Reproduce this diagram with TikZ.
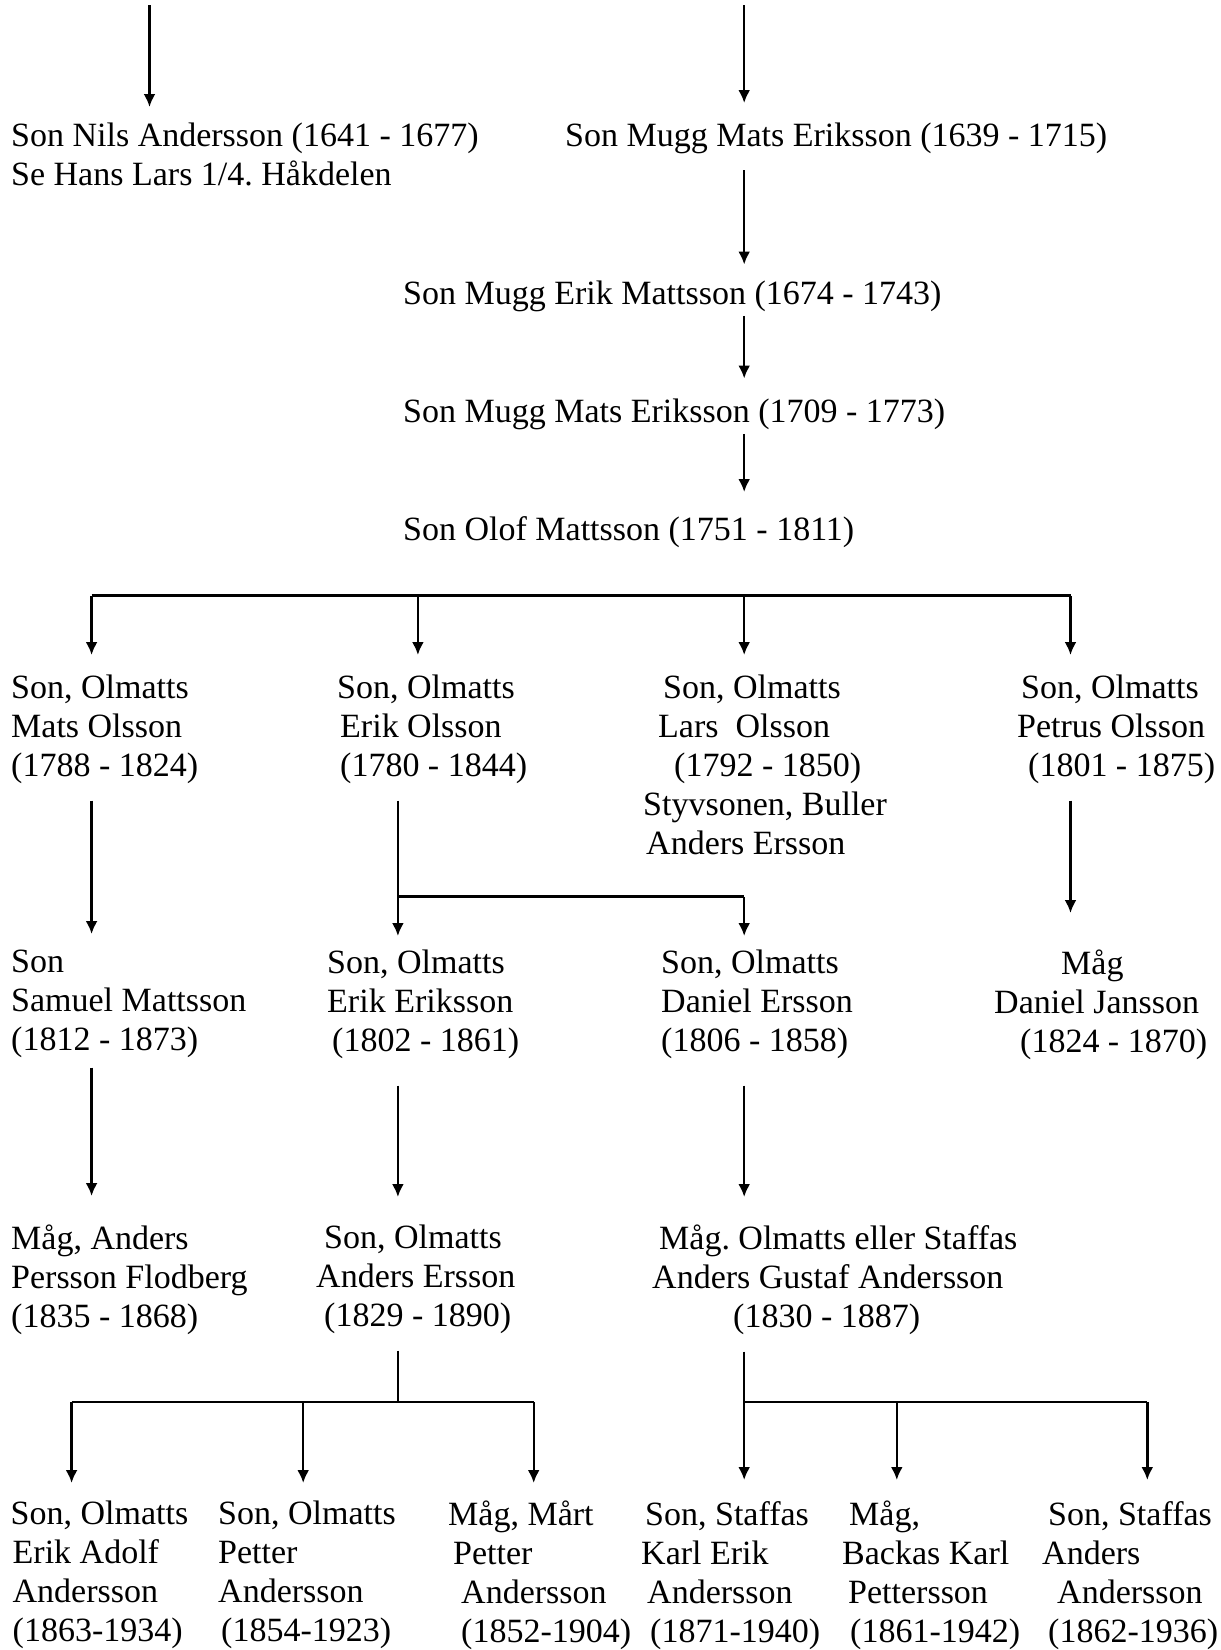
\documentclass[tikz,border=0pt]{standalone}
\usepackage{fontspec}
\setmainfont{Liberation Serif}
\usetikzlibrary{arrows.meta}

\tikzset{
  person/.style={anchor=north west, inner sep=0pt, align=left,
    font=\fontsize{34}{39}\selectfont\frenchspacing, execute at begin node=\strut},
  arr/.style={-{Latex[length=13pt,width=12pt]}, line width=2.4pt, shorten >=16pt},
  from/.style={shorten <=12pt},
  bar/.style={line width=2.8pt}
}

\begin{document}
\begin{tikzpicture}[x=1pt,y=-1pt]
\useasboundingbox (0,0) rectangle (1221,1650);

% line columns and bar heights
\coordinate (cL) at (149.5,0);
\coordinate (cM) at (744.2,0);
\coordinate (c1) at (91.6,0);
\coordinate (c2) at (417.9,0);
\coordinate (c2b) at (397.9,0);
\coordinate (c4) at (1070.5,0);
\coordinate (d1) at (71.6,0);
\coordinate (d2) at (303.2,0);
\coordinate (d3) at (533.7,0);
\coordinate (d5) at (896.8,0);
\coordinate (d6) at (1147.3,0);
\coordinate (bar1) at (0,595.8);
\coordinate (bar2) at (0,896.8);
\coordinate (bar3) at (0,1402);
\coordinate (inL) at (149.5,5);
\coordinate (inR) at (744.2,5);

% top
\node[person] (nils) at (11,123) {Son Nils Andersson (1641 - 1677)\\Se Hans Lars 1/4. Håkdelen};
\node[person] (mugg1) at (565,119) {Son Mugg Mats Eriksson (1639 - 1715)};
\node[person] (mugg2) at (403,276.5) {Son Mugg Erik Mattsson (1674 - 1743)};
\node[person] (mugg3) at (403,394.5) {Son Mugg Mats Eriksson (1709 - 1773)};
\node[person] (olof) at (403,513) {Son Olof Mattsson (1751 - 1811)};

% sons of Olof
\node[person] (mats) at (11,675) {Son, Olmatts\\Mats Olsson\\(1788 - 1824)};
\node[person] (erik) at (337,675) {Son, Olmatts\\\hspace*{3pt}Erik Olsson\\\hspace*{3pt}(1780 - 1844)};
\node[person] (lars) at (643,675) {\hspace*{20pt}Son, Olmatts\\\hspace*{15pt}Lars~~Olsson\\\hspace*{31pt}(1792 - 1850)\\Styvsonen, Buller\\\hspace*{3pt}Anders Ersson};
\node[person] (petrus) at (1017,675) {\hspace*{4pt}Son, Olmatts\\Petrus Olsson\\\hspace*{11pt}(1801 - 1875)};

% next generation
\node[person] (samuel) at (11,950) {Son\\Samuel Mattsson\\(1812 - 1873)};
\node[person] (erikE) at (327,950) {Son, Olmatts\\Erik Eriksson\\\hspace*{5pt}(1802 - 1861)};
\node[person] (danielE) at (661,950) {Son, Olmatts\\Daniel Ersson\\(1806 - 1858)};
\node[person] (danielJ) at (994,950) {\hspace*{67pt}Måg\\Daniel Jansson\\\hspace*{26pt}(1824 - 1870)};

\node[person] (flodberg) at (11,1225) {Måg, Anders\\Persson Flodberg\\(1835 - 1868)};
\node[person] (andersE) at (316,1225) {\hspace*{8pt}Son, Olmatts\\Anders Ersson\\\hspace*{8pt}(1829 - 1890)};
\node[person] (andersG) at (652,1225) {\hspace*{7pt}Måg. Olmatts eller Staffas\\Anders Gustaf Andersson\\\hspace*{81pt}(1830 - 1887)};

% bottom row
\node[person] (erikA) at (10.5,1501) {Son, Olmatts\\\hspace*{2pt}Erik Adolf\\\hspace*{2pt}Andersson\\\hspace*{2pt}(1863-1934)};
\node[person] (petterO) at (218,1501) {Son, Olmatts\\Petter\\Andersson\\\hspace*{3pt}(1854-1923)};
\node[person] (petterM) at (448,1501) {Måg, Mårt\\\hspace*{5pt}Petter\\\hspace*{13pt}Andersson\\\hspace*{13pt}(1852-1904)};
\node[person] (karl) at (641,1501) {\hspace*{4pt}Son, Staffas\\Karl Erik\\\hspace*{6pt}Andersson\\\hspace*{9pt}(1871-1940)};
\node[person] (backas) at (842,1501) {\hspace*{7pt}Måg,\\Backas Karl\\\hspace*{6pt}Pettersson\\\hspace*{8pt}(1861-1942)};
\node[person] (andersA) at (1042,1501) {\hspace*{6pt}Son, Staffas\\Anders\\\hspace*{15pt}Andersson\\\hspace*{6pt}(1862-1936)};

% main line
\draw[arr] (inL) -- (inL |- nils.north);
\draw[arr] (inR) -- (inR |- mugg1.north);
\draw[arr, from, shorten >=12pt] (mugg1.south -| cM) -- (mugg2.north -| cM);
\draw[arr] (mugg2.south -| cM) -- (mugg3.north -| cM);
\draw[arr, shorten >=21pt] (mugg3.south -| cM) -- (olof.north -| cM);

% Olof's sons
\draw[bar] (bar1 -| c1) -- (bar1 -| c4);
\foreach \c/\n in {c1/mats, c2/erik, cM/lars, c4/petrus}
  \draw[arr, shorten >=20pt] (bar1 -| \c) -- (\n.north -| \c);

\draw[arr, from] (mats.south -| c1) -- (samuel.north -| c1);
\draw[bar, from] (erik.south -| c2b) -- (bar2 -| c2b) -- (bar2 -| cM);
\draw[arr, shorten >=14pt] (bar2 -| c2b) -- (erikE.north -| c2b);
\draw[arr, shorten >=14pt] (bar2 -| cM) -- (danielE.north -| cM);
\draw[arr, from, shorten >=37pt] (petrus.south -| c4) -- (danielJ.north -| c4);

\draw[arr, shorten <=5pt, shorten >=29pt] (samuel.south -| c1) -- (flodberg.north -| c1);
\draw[arr, shorten <=22pt, shorten >=28pt] (erikE.south -| c2b) -- (andersE.north -| c2b);
\draw[arr, shorten <=22pt, shorten >=28pt] (danielE.south -| cM) -- (andersG.north -| cM);

% last generation
\draw[bar, from] (andersE.south -| c2b) -- (bar3 -| c2b);
\draw[bar] (bar3 -| d1) -- (bar3 -| d3);
\foreach \c/\n in {d1/erikA, d2/petterO, d3/petterM}
  \draw[arr, shorten >=18pt] (bar3 -| \c) -- (\n.north -| \c);
\draw[arr, from, shorten >=21pt] (andersG.south -| cM) -- (karl.north -| cM);
\draw[bar] (bar3 -| cM) -- (bar3 -| d6);
\foreach \c/\n in {d5/backas, d6/andersA}
  \draw[arr, shorten >=21pt] (bar3 -| \c) -- (\n.north -| \c);
\end{tikzpicture}
\end{document}
